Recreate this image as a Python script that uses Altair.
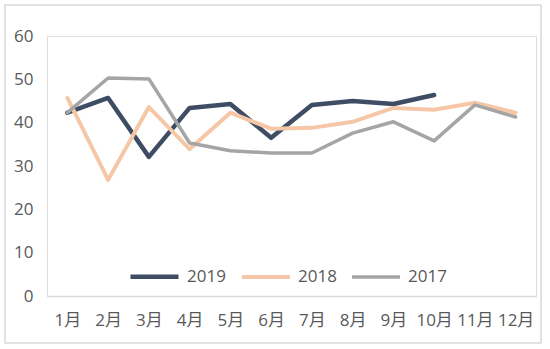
import altair as alt
import pandas as pd

months = ["1月", "2月", "3月", "4月", "5月", "6月", "7月", "8月", "9月", "10月", "11月", "12月"]
v2019 = [42.3, 45.7, 32.1, 43.4, 44.3, 36.5, 44.1, 45.0, 44.3, 46.4]
v2018 = [45.7, 26.8, 43.6, 33.9, 42.3, 38.6, 38.8, 40.2, 43.4, 43.0, 44.6, 42.3]
v2017 = [42.3, 50.3, 50.1, 35.3, 33.5, 33.0, 33.0, 37.6, 40.2, 35.8, 44.1, 41.3]
series = ["2019", "2018", "2017"]
colors = ["#3e4d63", "#f6c7a6", "#a5a5a5"]
widths = [4.5, 3.5, 3.5]

rows = []
for name, vals in zip(series, [v2019, v2018, v2017]):
    for i, v in enumerate(vals):
        rows.append({"month": months[i], "value": v, "series": name, "ord": series.index(name)})
df = pd.DataFrame(rows)

FONT = "Open Sans, Noto Sans CJK SC"
GREY = "#595959"

lines = alt.Chart(df).mark_line(strokeJoin="round", strokeCap="round").encode(
    x=alt.X("month:N", sort=months, scale=alt.Scale(type="point", padding=0.5),
            axis=alt.Axis(title=None, labelAngle=0, ticks=False, domainColor="#d9d9d9",
                          domainWidth=1.5, labelPadding=16, labelFontSize=17,
                          labelColor=GREY, labelFont=FONT, grid=False)),
    y=alt.Y("value:Q", scale=alt.Scale(domain=[0, 60], nice=False),
            axis=alt.Axis(title=None, values=[0, 10, 20, 30, 40, 50, 60], ticks=False,
                          domain=False, grid=False, labelPadding=14, labelFontSize=17,
                          labelColor=GREY, labelFont=FONT)),
    color=alt.Color("series:N", scale=alt.Scale(domain=series, range=colors),
                    legend=alt.Legend(title=None, orient="none", direction="horizontal",
                                      legendX=81, legendY=214, symbolType="stroke",
                                      symbolSize=2304, symbolStrokeWidth=4.5,
                                      labelFontSize=17, labelColor=GREY, labelFont=FONT,
                                      labelOffset=6, columnPadding=8)),
    strokeWidth=alt.StrokeWidth("series:N", scale=alt.Scale(domain=series, range=widths), legend=None),
    order=alt.Order("ord:Q"),
)

border = alt.Chart(pd.DataFrame({"k": [0]})).mark_rect(
    fill=None, stroke="#d9d9d9", strokeWidth=1.5
).encode(
    x=alt.value(-42), x2=alt.value(494), y=alt.value(-31), y2=alt.value(307)
)

chart = alt.layer(border, lines).properties(
    width=489, height=260,
    padding={"left": 47, "top": 36, "right": 14, "bottom": 53},
    autosize=alt.AutoSizeParams(type="none"),
).configure_view(stroke=None).configure(background="white")

chart.save("out.html", embed_options={"renderer": "svg", "actions": False})
